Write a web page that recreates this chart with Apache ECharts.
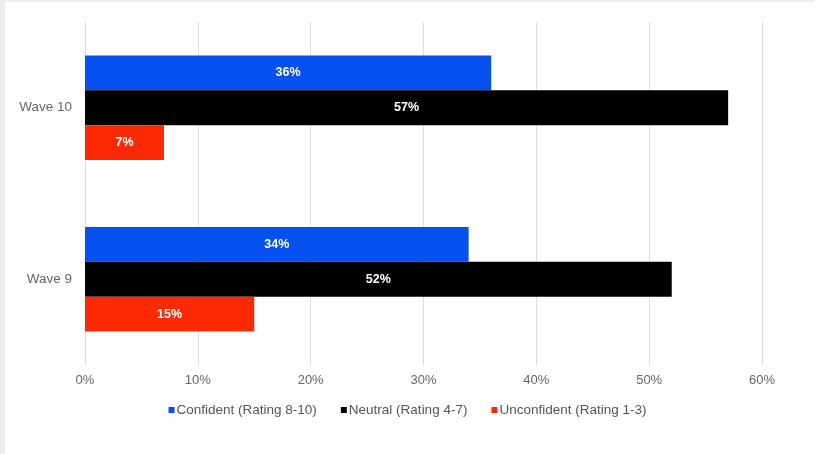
<!DOCTYPE html>
<html>
<head>
<meta charset="utf-8">
<script src="https://cdn.jsdelivr.net/npm/echarts@6/dist/echarts.min.js"></script>
<style>
  html, body { margin: 0; padding: 0; background: #ececec; }
  #panel { position: absolute; left: 5px; top: 2px; width: 810px; height: 452px; background: #ffffff; }
  #chart { position: absolute; left: 0; top: 0; width: 815px; height: 454px; }
</style>
</head>
<body>
<div id="panel"></div>
<div id="chart"></div>
<script>
// Survey waves (top to bottom) and the share of respondents in each rating band
const waves = ['Wave 10', 'Wave 9'];
const confident = [36, 34];
const neutral = [57, 52];
const unconfident = [7, 15];
const seriesNames = ['Confident (Rating 8-10)', 'Neutral (Rating 4-7)', 'Unconfident (Rating 1-3)'];
const seriesColors = ['#0550ee', '#000000', '#fc2a04'];

const chart = echarts.init(document.getElementById('chart'), null, { renderer: 'canvas' });

const font = 'Liberation Sans, Arial, Helvetica, sans-serif';

function barSeries(name, data, color) {
  return {
    name: name,
    type: 'bar',
    data: data,
    barGap: '0%',
    barCategoryGap: '39%',
    itemStyle: { color: color },
    label: {
      show: true,
      position: 'inside',
      formatter: p => p.value + '%',
      color: '#ffffff',
      fontWeight: 'bold',
      fontSize: 12.5,
      fontFamily: font
    },
    emphasis: { disabled: true }
  };
}

chart.setOption({
  backgroundColor: 'transparent',
  animation: false,
  grid: { left: 85, right: 53, top: 22, bottom: 89, containLabel: false },
  legend: {
    top: 398,
    left: 'center',
    itemWidth: 6,
    itemHeight: 6,
    itemGap: 24,
    icon: 'rect',
    textStyle: { color: '#555555', fontSize: 13.5, fontFamily: font, padding: [0, 0, 0, -3] },
    data: seriesNames
  },
  xAxis: {
    type: 'value',
    min: 0,
    max: 60,
    interval: 10,
    axisLine: { show: false },
    axisTick: { show: false },
    axisLabel: {
      formatter: v => v + '%',
      color: '#666666',
      fontSize: 13,
      fontFamily: font,
      margin: 9
    },
    splitLine: { show: true, lineStyle: { color: '#dddddd', width: 1 } }
  },
  yAxis: {
    type: 'category',
    inverse: true,
    data: waves,
    axisLine: { show: false },
    axisTick: { show: false },
    axisLabel: { color: '#666666', fontSize: 13.5, fontFamily: font, margin: 13 }
  },
  series: [
    barSeries(seriesNames[0], confident, seriesColors[0]),
    barSeries(seriesNames[1], neutral, seriesColors[1]),
    barSeries(seriesNames[2], unconfident, seriesColors[2])
  ]
});
</script>
</body>
</html>
